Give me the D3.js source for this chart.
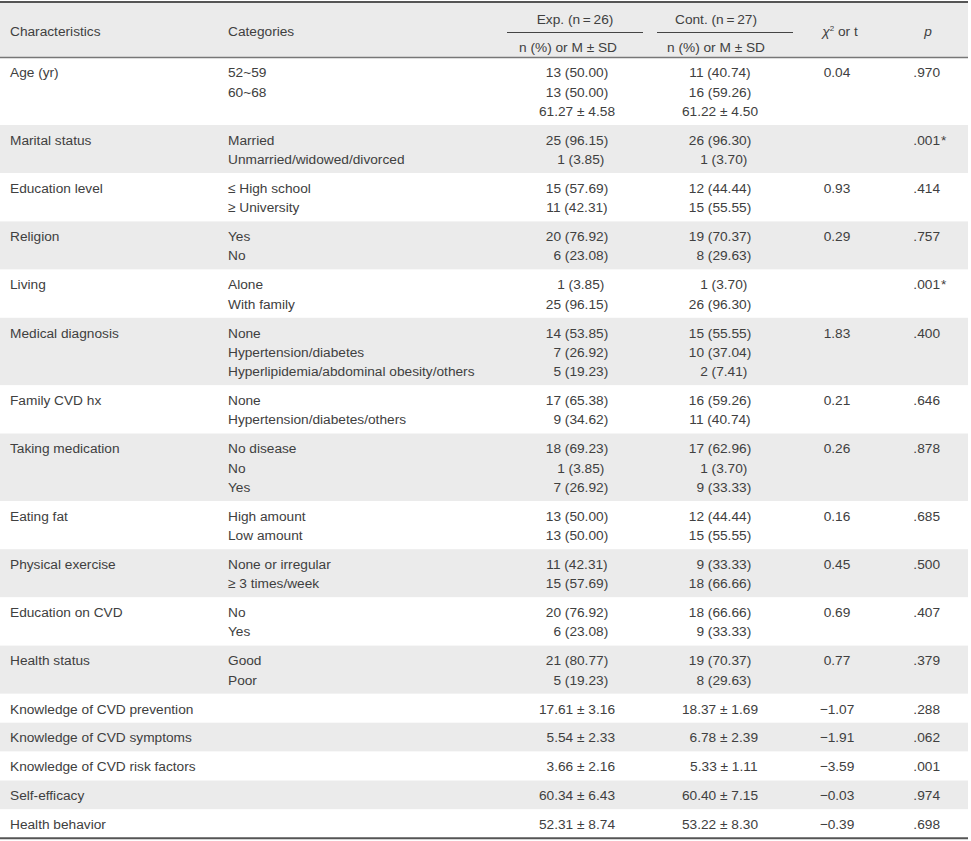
<!DOCTYPE html>
<html>
<head>
<meta charset="utf-8">
<script src="https://cdn.jsdelivr.net/npm/d3@7"></script>
<style>
  body { margin: 0; background: #fff; }
  svg text { font-family: 'Liberation Sans', Arial, sans-serif; font-size: 13.7px; fill: #404040; }
</style>
</head>
<body>
<div id="chart"></div>
<script>
// table content
const characteristics = [
  'Age (yr)', 'Marital status', 'Education level', 'Religion', 'Living',
  'Medical diagnosis', 'Family CVD hx', 'Taking medication', 'Eating fat',
  'Physical exercise', 'Education on CVD', 'Health status',
  'Knowledge of CVD prevention', 'Knowledge of CVD symptoms',
  'Knowledge of CVD risk factors', 'Self-efficacy', 'Health behavior'
]
const categories = [
  ['52~59', '60~68'],
  ['Married', 'Unmarried/widowed/divorced'],
  ['\u2264 High school', '\u2265 University'],
  ['Yes', 'No'],
  ['Alone', 'With family'],
  ['None', 'Hypertension/diabetes', 'Hyperlipidemia/abdominal obesity/others'],
  ['None', 'Hypertension/diabetes/others'],
  ['No disease', 'No', 'Yes'],
  ['High amount', 'Low amount'],
  ['None or irregular', '\u2265 3 times/week'],
  ['No', 'Yes'],
  ['Good', 'Poor'],
  [], [], [], [], []
]
const expValues = [
  ['13 (50.00)', '13 (50.00)', '61.27 \u00b1 4.58'],
  ['25 (96.15)', '1 (3.85)'],
  ['15 (57.69)', '11 (42.31)'],
  ['20 (76.92)', '6 (23.08)'],
  ['1 (3.85)', '25 (96.15)'],
  ['14 (53.85)', '7 (26.92)', '5 (19.23)'],
  ['17 (65.38)', '9 (34.62)'],
  ['18 (69.23)', '1 (3.85)', '7 (26.92)'],
  ['13 (50.00)', '13 (50.00)'],
  ['11 (42.31)', '15 (57.69)'],
  ['20 (76.92)', '6 (23.08)'],
  ['21 (80.77)', '5 (19.23)'],
  ['17.61 \u00b1 3.16'],
  ['5.54 \u00b1 2.33'],
  ['3.66 \u00b1 2.16'],
  ['60.34 \u00b1 6.43'],
  ['52.31 \u00b1 8.74']
]
const contValues = [
  ['11 (40.74)', '16 (59.26)', '61.22 \u00b1 4.50'],
  ['26 (96.30)', '1 (3.70)'],
  ['12 (44.44)', '15 (55.55)'],
  ['19 (70.37)', '8 (29.63)'],
  ['1 (3.70)', '26 (96.30)'],
  ['15 (55.55)', '10 (37.04)', '2 (7.41)'],
  ['16 (59.26)', '11 (40.74)'],
  ['17 (62.96)', '1 (3.70)', '9 (33.33)'],
  ['12 (44.44)', '15 (55.55)'],
  ['9 (33.33)', '18 (66.66)'],
  ['18 (66.66)', '9 (33.33)'],
  ['19 (70.37)', '8 (29.63)'],
  ['18.37 \u00b1 1.69'],
  ['6.78 \u00b1 2.39'],
  ['5.33 \u00b1 1.11'],
  ['60.40 \u00b1 7.15'],
  ['53.22 \u00b1 8.30']
]
const testStats = ['0.04', '', '0.93', '0.29', '', '1.83', '0.21', '0.26', '0.16', '0.45', '0.69', '0.77',
  '-1.07', '-1.91', '-3.59', '-0.03', '-0.39']
const pValues = ['.970', '.001*', '.414', '.757', '.001*', '.400', '.646', '.878', '.685', '.500', '.407', '.379',
  '.288', '.062', '.001', '.974', '.698']
const groupHeaders = ['Exp. (n\u2009=\u200926)', 'Cont. (n\u2009=\u200927)']
const subHeader = 'n (%) or M \u00b1 SD'

const width = 971
const height = 841
const tableLeft = 0
const tableRight = 968
const headTop = 2
const headBottom = 57.5
const lineH = 19.3
const padV = 9.6
const gray = '#ebebeb'

// single digit leads get a figure space so columns line up
const padLead = s => /^\d[ .]/.test(s) && !/^\d\.\d+$/.test(s) ? '\u2007' + s : s

const rows = characteristics.map((c, i) => ({
  name: c,
  cats: categories[i],
  exp: expValues[i].map(padLead),
  cont: contValues[i].map(padLead),
  stat: testStats[i],
  p: pValues[i],
  lines: Math.max(1, categories[i].length, expValues[i].length, contValues[i].length)
}))
const heights = rows.map(r => r.lines * lineH + padV)
const tops = [0, ...d3.cumsum(heights)]
const y = d3.scaleLinear().domain([0, tops[tops.length - 1]]).range([headBottom, headBottom + tops[tops.length - 1]])
rows.forEach((r, i) => { r.y0 = y(tops[i]); r.h = heights[i] })

const col = { name: 10, cat: 228, exp: 577, cont: 720, stat: 837, p: 940 }

const svg = d3.select('#chart').append('svg')
  .attr('width', width)
  .attr('height', height)

// header
svg.append('rect')
  .attr('x', tableLeft).attr('y', headTop)
  .attr('width', tableRight - tableLeft).attr('height', headBottom - headTop)
  .attr('fill', gray)

// row bands
svg.append('g')
  .selectAll('rect')
  .data(rows)
  .join('rect')
  .attr('x', tableLeft)
  .attr('y', d => d.y0)
  .attr('width', tableRight - tableLeft)
  .attr('height', d => d.h)
  .attr('fill', (d, i) => i % 2 ? gray : '#fff')

const head = svg.append('g')
head.append('text').text('Characteristics').attr('x', col.name).attr('y', 31).attr('dy', '0.35em')
head.append('text').text('Categories').attr('x', col.cat).attr('y', 31).attr('dy', '0.35em')

const groups = [
  { label: groupHeaders[0], cx: 575, sub: 568, x1: 507, x2: 643 },
  { label: groupHeaders[1], cx: 716, sub: 716, x1: 657, x2: 793 }
]
groups.forEach(g => {
  head.append('text').text(g.label).attr('x', g.cx).attr('y', 19.5).attr('dy', '0.35em').attr('text-anchor', 'middle')
  head.append('line').attr('x1', g.x1).attr('x2', g.x2).attr('y1', 32.5).attr('y2', 32.5)
    .attr('stroke', '#444').attr('stroke-width', 1)
  head.append('text').text(subHeader).attr('x', g.sub).attr('y', 47.5).attr('dy', '0.35em').attr('text-anchor', 'middle')
})

const chi = head.append('text').attr('x', 840).attr('y', 31).attr('dy', '0.35em').attr('text-anchor', 'middle')
chi.append('tspan').text('\u03c7').style('font-style', 'italic')
chi.append('tspan').text('2').attr('dy', -5).style('font-size', '8px')
chi.append('tspan').text(' or t').attr('dy', 5)
head.append('text').text('p').attr('x', 928).attr('y', 31).attr('dy', '0.35em')
  .attr('text-anchor', 'middle').style('font-style', 'italic')

// body text
const body = svg.append('g')
const lineY = (d, k) => d.y0 + 15 + k * lineH

rows.forEach(r => {
  const g = body.append('g')
  g.append('text').text(r.name).attr('x', col.name).attr('y', lineY(r, 0)).attr('dy', '0.35em')
  r.cats.forEach((c, k) => {
    g.append('text').text(c).attr('x', col.cat).attr('y', lineY(r, k)).attr('dy', '0.35em')
  })
  r.exp.forEach((v, k) => {
    g.append('text').text(v).attr('x', col.exp).attr('y', lineY(r, k)).attr('dy', '0.35em').attr('text-anchor', 'middle')
  })
  r.cont.forEach((v, k) => {
    g.append('text').text(v).attr('x', col.cont).attr('y', lineY(r, k)).attr('dy', '0.35em').attr('text-anchor', 'middle')
  })
  if (r.stat) {
    g.append('text').text(r.stat.replace('-', '\u2212'))
      .attr('x', col.stat).attr('y', lineY(r, 0)).attr('dy', '0.35em').attr('text-anchor', 'middle')
  }
  const star = r.p.endsWith('*')
  g.append('text').text(r.p.replace('*', ''))
    .attr('x', col.p).attr('y', lineY(r, 0)).attr('dy', '0.35em').attr('text-anchor', 'end')
  if (star) {
    g.append('text').text('*').attr('x', col.p + 1).attr('y', lineY(r, 0)).attr('dy', '0.35em')
  }
})

// rules
const bottom = y(tops[tops.length - 1])
svg.append('line').attr('x1', tableLeft).attr('x2', tableRight).attr('y1', headTop).attr('y2', headTop)
  .attr('stroke', '#555').attr('stroke-width', 2)
svg.append('line').attr('x1', tableLeft).attr('x2', tableRight).attr('y1', headBottom).attr('y2', headBottom)
  .attr('stroke', '#777').attr('stroke-width', 1.5)
svg.append('line').attr('x1', tableLeft).attr('x2', tableRight).attr('y1', bottom).attr('y2', bottom)
  .attr('stroke', '#555').attr('stroke-width', 2)
</script>
</body>
</html>
